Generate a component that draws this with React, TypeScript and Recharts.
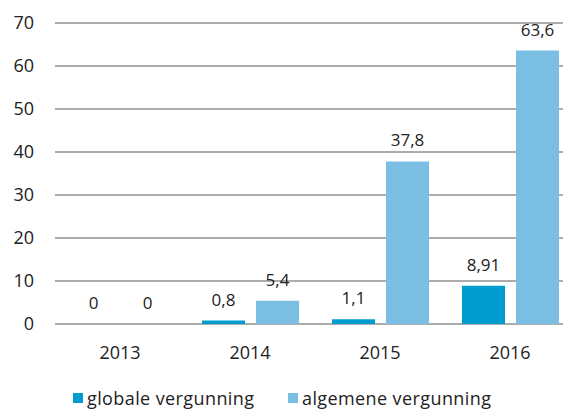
import React from 'react';
import { BarChart, Bar, XAxis, YAxis, CartesianGrid, Legend, LabelList } from 'recharts';

const years = ['2013', '2014', '2015', '2016'];
const globaleVergunning = [0, 0.8, 1.1, 8.91];
const algemeneVergunning = [0, 5.4, 37.8, 63.6];
const yTicks = [0, 10, 20, 30, 40, 50, 60, 70];
const seriesNames = ['globale vergunning', 'algemene vergunning'];

const data = years.map((year, i) => ({
  year,
  globale: globaleVergunning[i],
  algemene: algemeneVergunning[i],
}));

const FONT = '"Open Sans", sans-serif';
const TEXT = '#222222';
const DARK = '#009BCF';
const LIGHT = '#7ABFE3';

const fmt = (v: any) => String(v).replace('.', ',');
const zeroSize = (v: any) => (v === 0 ? 0.01 : 0);

const legendLeft = [73, 288];

const renderLegend = (props: any) => {
  const payload = [...(props.payload || [])].sort(
    (a: any, b: any) => seriesNames.indexOf(a.value) - seriesNames.indexOf(b.value)
  );
  return (
    <div style={{ position: 'relative', height: 20, fontFamily: FONT, fontSize: 18, color: TEXT, letterSpacing: 0.4 }}>
      {payload.map((entry: any, i: number) => (
        <span
          key={entry.value}
          style={{
            position: 'absolute',
            left: legendLeft[i],
            top: 0,
            height: 20,
            lineHeight: '20px',
            display: 'flex',
            alignItems: 'center',
            whiteSpace: 'nowrap',
          }}
        >
          <span style={{ display: 'inline-block', width: 10, height: 10, background: entry.color, marginRight: 4 }} />
          <span>{entry.value}</span>
        </span>
      ))}
    </div>
  );
};

export default function App() {
  return (
    <div style={{ position: 'fixed', left: 0, top: 0, width: 563, height: 409, overflow: 'hidden', background: '#fff' }}>
      <BarChart
        width={580}
        height={409}
        data={data}
        margin={{ top: 23, right: 5, bottom: 0, left: 0 }}
        barCategoryGap={17}
        barGap={11}
      >
        <CartesianGrid vertical={false} stroke="#909090" strokeWidth={1.3} />
        <XAxis
          dataKey="year"
          axisLine={false}
          tickLine={false}
          tickSize={0}
          tickMargin={22}
          height={85}
          tick={{ fontFamily: FONT, fontSize: 18, fill: TEXT }}
        />
        <YAxis
          domain={[0, 70]}
          ticks={yTicks}
          axisLine={false}
          tickLine={false}
          tickSize={0}
          tickMargin={21}
          width={55}
          interval={0}
          tick={{ fontFamily: FONT, fontSize: 18, fill: TEXT }}
        />
        <Legend
          layout="horizontal"
          verticalAlign="middle"
          align="center"
          content={renderLegend}
          wrapperStyle={{ top: 388, left: 0, width: 563, height: 20 }}
        />
        <Bar dataKey="globale" name={seriesNames[0]} fill={DARK} minPointSize={zeroSize} isAnimationActive={false}>
          <LabelList
            dataKey="globale"
            position="top"
            offset={15}
            formatter={fmt}
            style={{ fontFamily: FONT, fontSize: 17, fill: TEXT }}
          />
        </Bar>
        <Bar dataKey="algemene" name={seriesNames[1]} fill={LIGHT} minPointSize={zeroSize} isAnimationActive={false}>
          <LabelList
            dataKey="algemene"
            position="top"
            offset={15}
            formatter={fmt}
            style={{ fontFamily: FONT, fontSize: 17, fill: TEXT }}
          />
        </Bar>
      </BarChart>
    </div>
  );
}
